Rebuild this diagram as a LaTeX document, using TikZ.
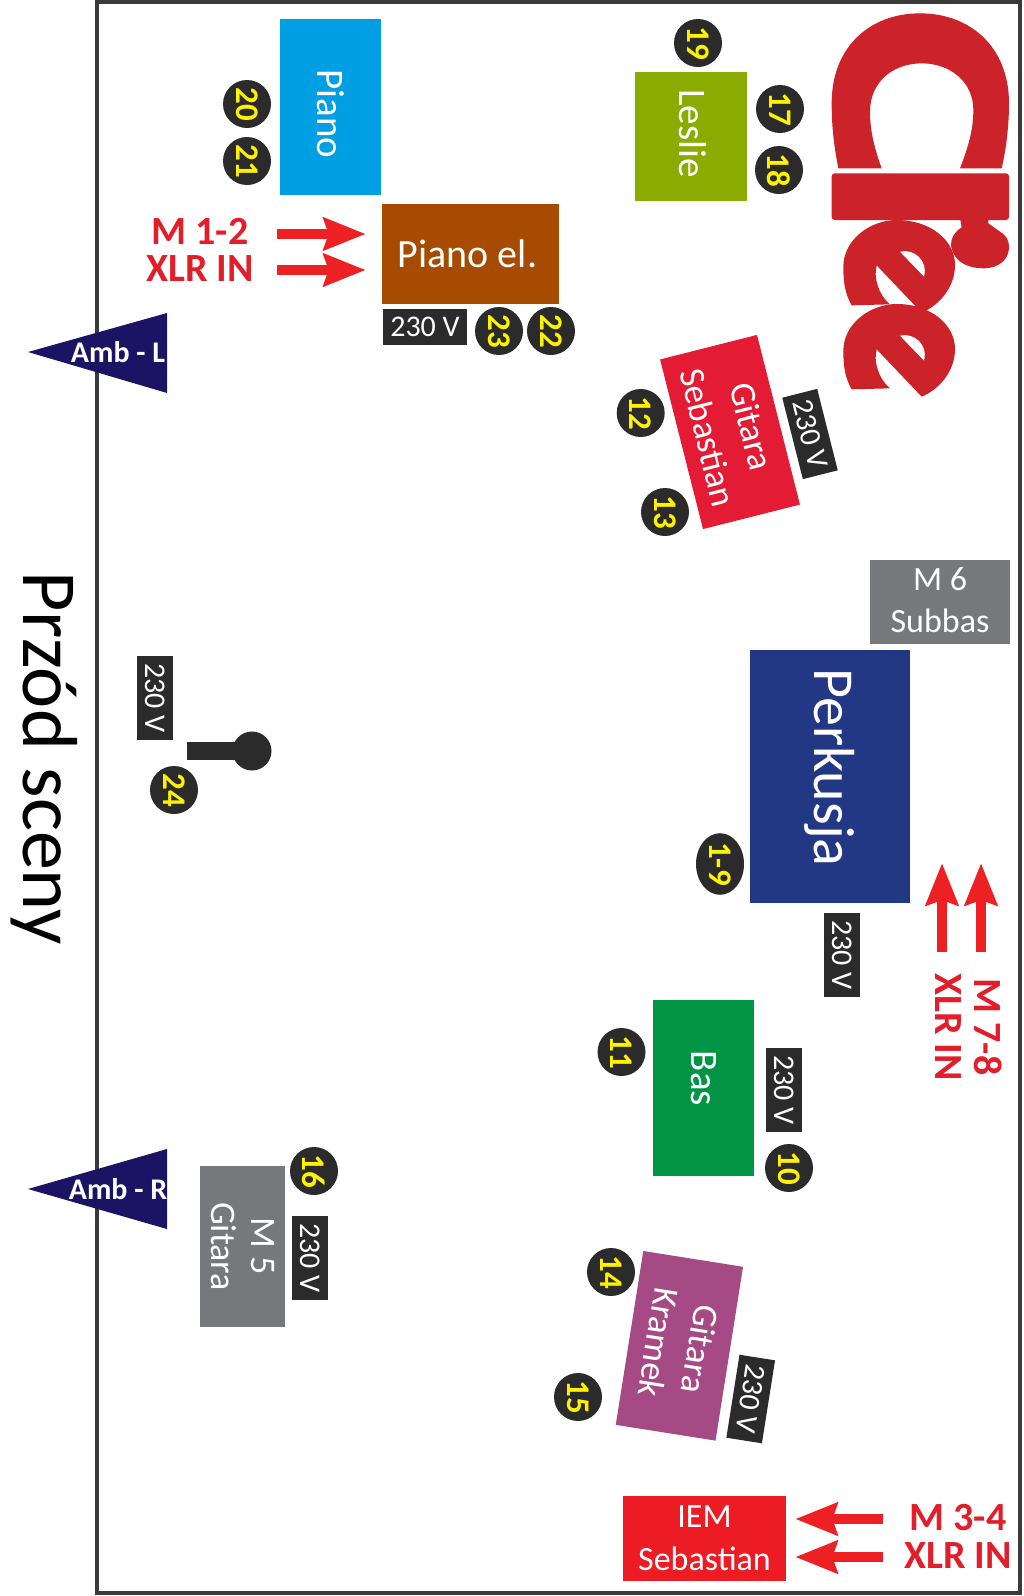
\documentclass[tikz,border=0pt]{standalone}
\usepackage{fontspec}
\setmainfont{Carlito}
\usetikzlibrary{arrows.meta,shapes.geometric}
\definecolor{ink}{HTML}{2B2B2B}
\definecolor{framegray}{HTML}{3A3A3A}
\definecolor{alarm}{HTML}{ED2024}
\definecolor{alarmtext}{HTML}{E21E2B}
\definecolor{brand}{HTML}{CC2229}
\definecolor{navy}{HTML}{1B1464}
\definecolor{cpiano}{HTML}{009EE3}
\definecolor{cpianoel}{HTML}{A64B00}
\definecolor{cleslie}{HTML}{8CAB00}
\definecolor{cseb}{HTML}{E31B35}
\definecolor{cgray}{HTML}{77787B}
\definecolor{cperk}{HTML}{233884}
\definecolor{cbas}{HTML}{009444}
\definecolor{ckra}{HTML}{A64A85}
\definecolor{ciem}{HTML}{ED1C24}
\tikzset{
  x=1pt,y=-1pt,
  box/.style={draw=none,inner sep=0pt,align=center,text=white,font=\fontsize{36}{40}\selectfont},
  numdot/.style={circle,fill=ink,minimum size=48pt,inner sep=0pt,text=yellow,font=\fontsize{33}{33}\selectfont\bfseries,rotate=-90},
  volt/.style={fill=ink,text=white,minimum width=84pt,minimum height=36pt,inner sep=0pt,font=\fontsize{30}{30}\selectfont},
  feed/.style={draw=alarm,line width=9.5pt,-{Stealth[length=42pt,width=32pt,inset=5pt]}},
  feedlabel/.style={text=alarmtext,inner sep=0pt,font=\fontsize{40}{40}\selectfont\bfseries},
  ambient/.style={fill=navy},
  ambtext/.style={text=white,inner sep=0pt,font=\fontsize{30}{30}\selectfont\bfseries},
}
\begin{document}
\begin{tikzpicture}
\useasboundingbox (0,0) rectangle (1024,1596);
\fill[white] (0,0) rectangle (1024,1596);
\draw[framegray,line width=4pt] (97,2) rectangle (1020,1593);

% Stage front caption
\node[rotate=-90,inner sep=0pt,font=\fontsize{78}{78}\selectfont] (front) at (44,758) {Przód sceny};

% Instruments
\node[box,fill=cpiano,minimum width=176pt,minimum height=101pt,rotate=-90,font=\fontsize{39}{39}\selectfont] (piano) at (330.5,107) {\hspace{14pt}Piano};
\node[box,fill=cpianoel,minimum width=177pt,minimum height=100pt,font=\fontsize{40}{40}\selectfont] (pianoel) at (470.5,254) {\raisebox{-2pt}{Piano el.}\hspace{6pt}};
\node[box,fill=cleslie,minimum width=129pt,minimum height=112pt,rotate=-90,font=\fontsize{39}{39}\selectfont] (leslie) at (691,136.5) {\raisebox{4pt}{Leslie}\hspace{6pt}};
\node[box,fill=cseb,minimum width=175pt,minimum height=100pt,rotate=-75.8,font=\fontsize{36}{45}\selectfont] (gitseb) at (730,432) {Gitara\\Sebastian};
\node[box,fill=cgray,minimum width=140pt,minimum height=84pt,font=\fontsize{34}{42}\selectfont] (subbas) at (940,602) {\raisebox{3pt}{M 6}\\\raisebox{3pt}{Subbas}};
\node[box,fill=cperk,minimum width=253pt,minimum height=160pt,rotate=-90,font=\fontsize{58}{58}\selectfont] (perk) at (830,776.5) {\raisebox{-3pt}{Perkusja}\hspace{18pt}};
\node[box,fill=cbas,minimum width=176pt,minimum height=101pt,rotate=-90,font=\fontsize{39}{39}\selectfont] (bas) at (703.3,1087.5) {\raisebox{2pt}{Bas}\hspace{18pt}};
\node[box,fill=cgray,minimum width=161pt,minimum height=85pt,rotate=-90] (mfive) at (242.5,1246.5) {M 5\\Gitara};
\node[box,fill=ckra,minimum width=176pt,minimum height=101pt,rotate=-99,font=\fontsize{36}{42}\selectfont] (gitkra) at (679.4,1345.8) {Gitara\\Kramek};
\node[box,fill=ciem,minimum width=163pt,minimum height=85pt,font=\fontsize{34}{43}\selectfont] (iem) at (704.5,1538.5) {IEM\\Sebastian};

% Mains outlets
\node[volt] (vpiano) at (425,327) {230 V};
\node[volt,rotate=-75.8] (vgitseb) at (810,434) {230 V};
\node[volt,rotate=-90] (vperk) at (842,955) {230 V};
\node[volt,rotate=-90] (vbas) at (784,1090) {230 V};
\node[volt,rotate=-90] (vmfive) at (310,1258) {230 V};
\node[volt,rotate=-99] (vgitkra) at (750.7,1399) {230 V};
\node[volt,rotate=-90] (vmic) at (155,698) {230 V};

% Input numbers
\node[numdot] (n19) at (698,43) {19};
\node[numdot] (n17) at (780,109) {17};
\node[numdot] (n18) at (779,170) {18};
\node[numdot] (n20) at (247,104) {20};
\node[numdot] (n21) at (247,161) {21};
\node[numdot] (n23) at (499,331) {23};
\node[numdot] (n22) at (551,331) {22};
\node[numdot] (n12) at (640.7,413) {12};
\node[numdot] (n13) at (665,512) {13};
\node[numdot,ellipse,minimum size=0pt,minimum width=58pt,minimum height=48pt] (n19b) at (720,864) {1-9};
\node[numdot] (n11) at (621.5,1052) {11};
\node[numdot] (n10) at (789,1168) {10};
\node[numdot] (n16) at (314,1171) {16};
\node[numdot] (n24) at (174,790) {24};
\node[numdot] (n14) at (611,1272) {14};
\node[numdot] (n15) at (578,1397) {15};

% Microphone
\node[circle,fill=ink,minimum size=39pt,inner sep=0pt] (michead) at (252,751) {};
\fill[ink] (187,742) rectangle (252,760);

% Ambient microphones
\fill[ambient] (28,352) -- (167,313) -- (167,393) -- cycle;
\node[ambtext] (ambl) at (118,352) {Amb - L};
\fill[ambient] (28,1189) -- (167,1149) -- (167,1229) -- cycle;
\node[ambtext] (ambr) at (118,1189) {Amb - R};

% Stage box feeds
\node[feedlabel] (m12) at (200,231) {M 1-2};
\node[feedlabel] (x12) at (200,269) {XLR IN};
\coordinate (fa) at (277,234);
\coordinate (fb) at (277,270);
\draw[feed] (fa) -- ([xshift=-16pt]pianoel.west |- fa);
\draw[feed] (fb) -- ([xshift=-16pt]pianoel.west |- fb);

\node[feedlabel] (m34) at (958,1518) {M 3-4};
\node[feedlabel] (x34) at (958,1556) {XLR IN};
\coordinate (fc) at (883,1519);
\coordinate (fd) at (883,1557);
\draw[feed] (fc) -- ([xshift=9pt]iem.east |- fc);
\draw[feed] (fd) -- ([xshift=9pt]iem.east |- fd);

\node[feedlabel,rotate=-90] (m78) at (988,1027) {M 7-8};
\node[feedlabel,rotate=-90] (x78) at (948,1027) {XLR IN};
\coordinate (fe) at (981,952);
\coordinate (ff) at (942,952);
\coordinate (ge) at (981,863);
\coordinate (gf) at (942,863);
\draw[feed] (fe) -- (ge);
\draw[feed] (ff) -- (gf);

% Band logo, drawn letter by letter
\begin{scope}[shift={(780pt,0pt)},x=0.33333pt,y=-0.33333pt]
  \fill[brand] (175,505) .. controls (160,430) and (155,370) .. (155,310)
    .. controls (155,140) and (270,40) .. (420,40)
    .. controls (570,40) and (687,140) .. (687,310)
    .. controls (687,370) and (680,440) .. (665,505) -- (540,505)
    .. controls (565,440) and (580,390) .. (580,330)
    .. controls (580,245) and (510,190) .. (425,190)
    .. controls (340,190) and (270,245) .. (270,335)
    .. controls (270,395) and (285,450) .. (305,505) -- cycle;
  \fill[brand,rounded corners=3pt] (155,520) rectangle (687,660);
  \fill[brand] (540,655) -- (545,682) .. controls (515,700) and (510,730) .. (515,745)
    .. controls (525,790) and (570,805) .. (610,805)
    .. controls (660,805) and (687,775) .. (687,742)
    .. controls (687,720) and (680,708) .. (660,695) -- (625,670) -- (625,655) -- cycle;
  \foreach \dy in {0,252}{
    \begin{scope}[shift={(0,\dy)}]
      \fill[brand] (215,916) .. controls (195,880) and (190,850) .. (190,800)
        .. controls (190,720) and (270,660) .. (350,660)
        .. controls (450,660) and (525,720) .. (525,795)
        .. controls (525,860) and (480,915) .. (425,938) -- (290,796)
        .. controls (280,830) and (295,885) .. (330,913) -- cycle;
      \fill[white] (360,755) .. controls (400,745) and (445,780) .. (432,830) -- cycle;
    \end{scope}
  }
\end{scope}
\end{tikzpicture}
\end{document}
